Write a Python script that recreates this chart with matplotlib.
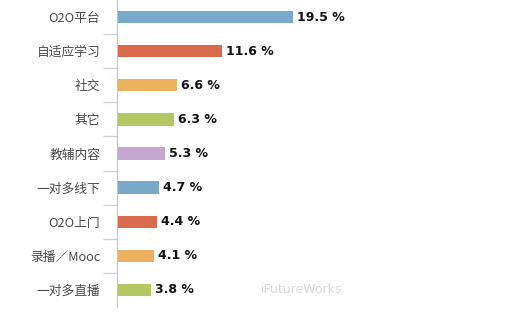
import numpy as np
import matplotlib.pyplot as plt

plt.rcParams['font.family'] = ['Noto Sans CJK SC', 'DejaVu Sans']

categories = ["O2O平台", "自适应学习", "社交", "其它", "教辅内容",
              "一对多线下", "O2O上门", "录播／Mooc", "一对多直播"]
values = [19.5, 11.6, 6.6, 6.3, 5.3, 4.7, 4.4, 4.1, 3.8]
colors = ["#79a9c9", "#d96a4c", "#ecb15f", "#b4c763", "#c5a7cf",
          "#79a9c9", "#d96a4c", "#ecb15f", "#b4c763"]

fig = plt.figure(figsize=(5.31, 3.16), dpi=100)
ax = fig.add_axes([117 / 531, 9 / 316, 361 / 531, 307 / 316])

y = np.arange(len(categories))
ax.barh(y, values, height=0.36, color=colors)
ax.set_ylim(len(categories) - 0.5, -0.5)
ax.set_xlim(0, 40)

# value labels next to the bars
for yi, v in zip(y, values):
    ax.text(v + 0.45, yi, f"{v} %", va="center", ha="left",
            fontsize=9, fontweight="bold", color="#111111",
            family="DejaVu Sans")

ax.set_yticks(y)
ax.set_yticklabels(categories, fontsize=9.2, color="#4a4a4a")
ax.tick_params(axis="y", which="major", length=0, pad=12)
ax.set_yticks(np.arange(len(categories) - 1) + 0.5, minor=True)
ax.tick_params(axis="y", which="minor", length=10, color="#c8d2e0", width=1)
ax.set_xticks([])

for s in ["top", "right", "bottom"]:
    ax.spines[s].set_visible(False)
ax.spines["left"].set_color("#b8c6da")

# watermark
fig.text(0.492, 0.085, "iFutureWorks", fontsize=9, color="#d9d9d9",
         va="center", ha="left", family="DejaVu Sans")

fig.savefig("out.png", dpi=100)
